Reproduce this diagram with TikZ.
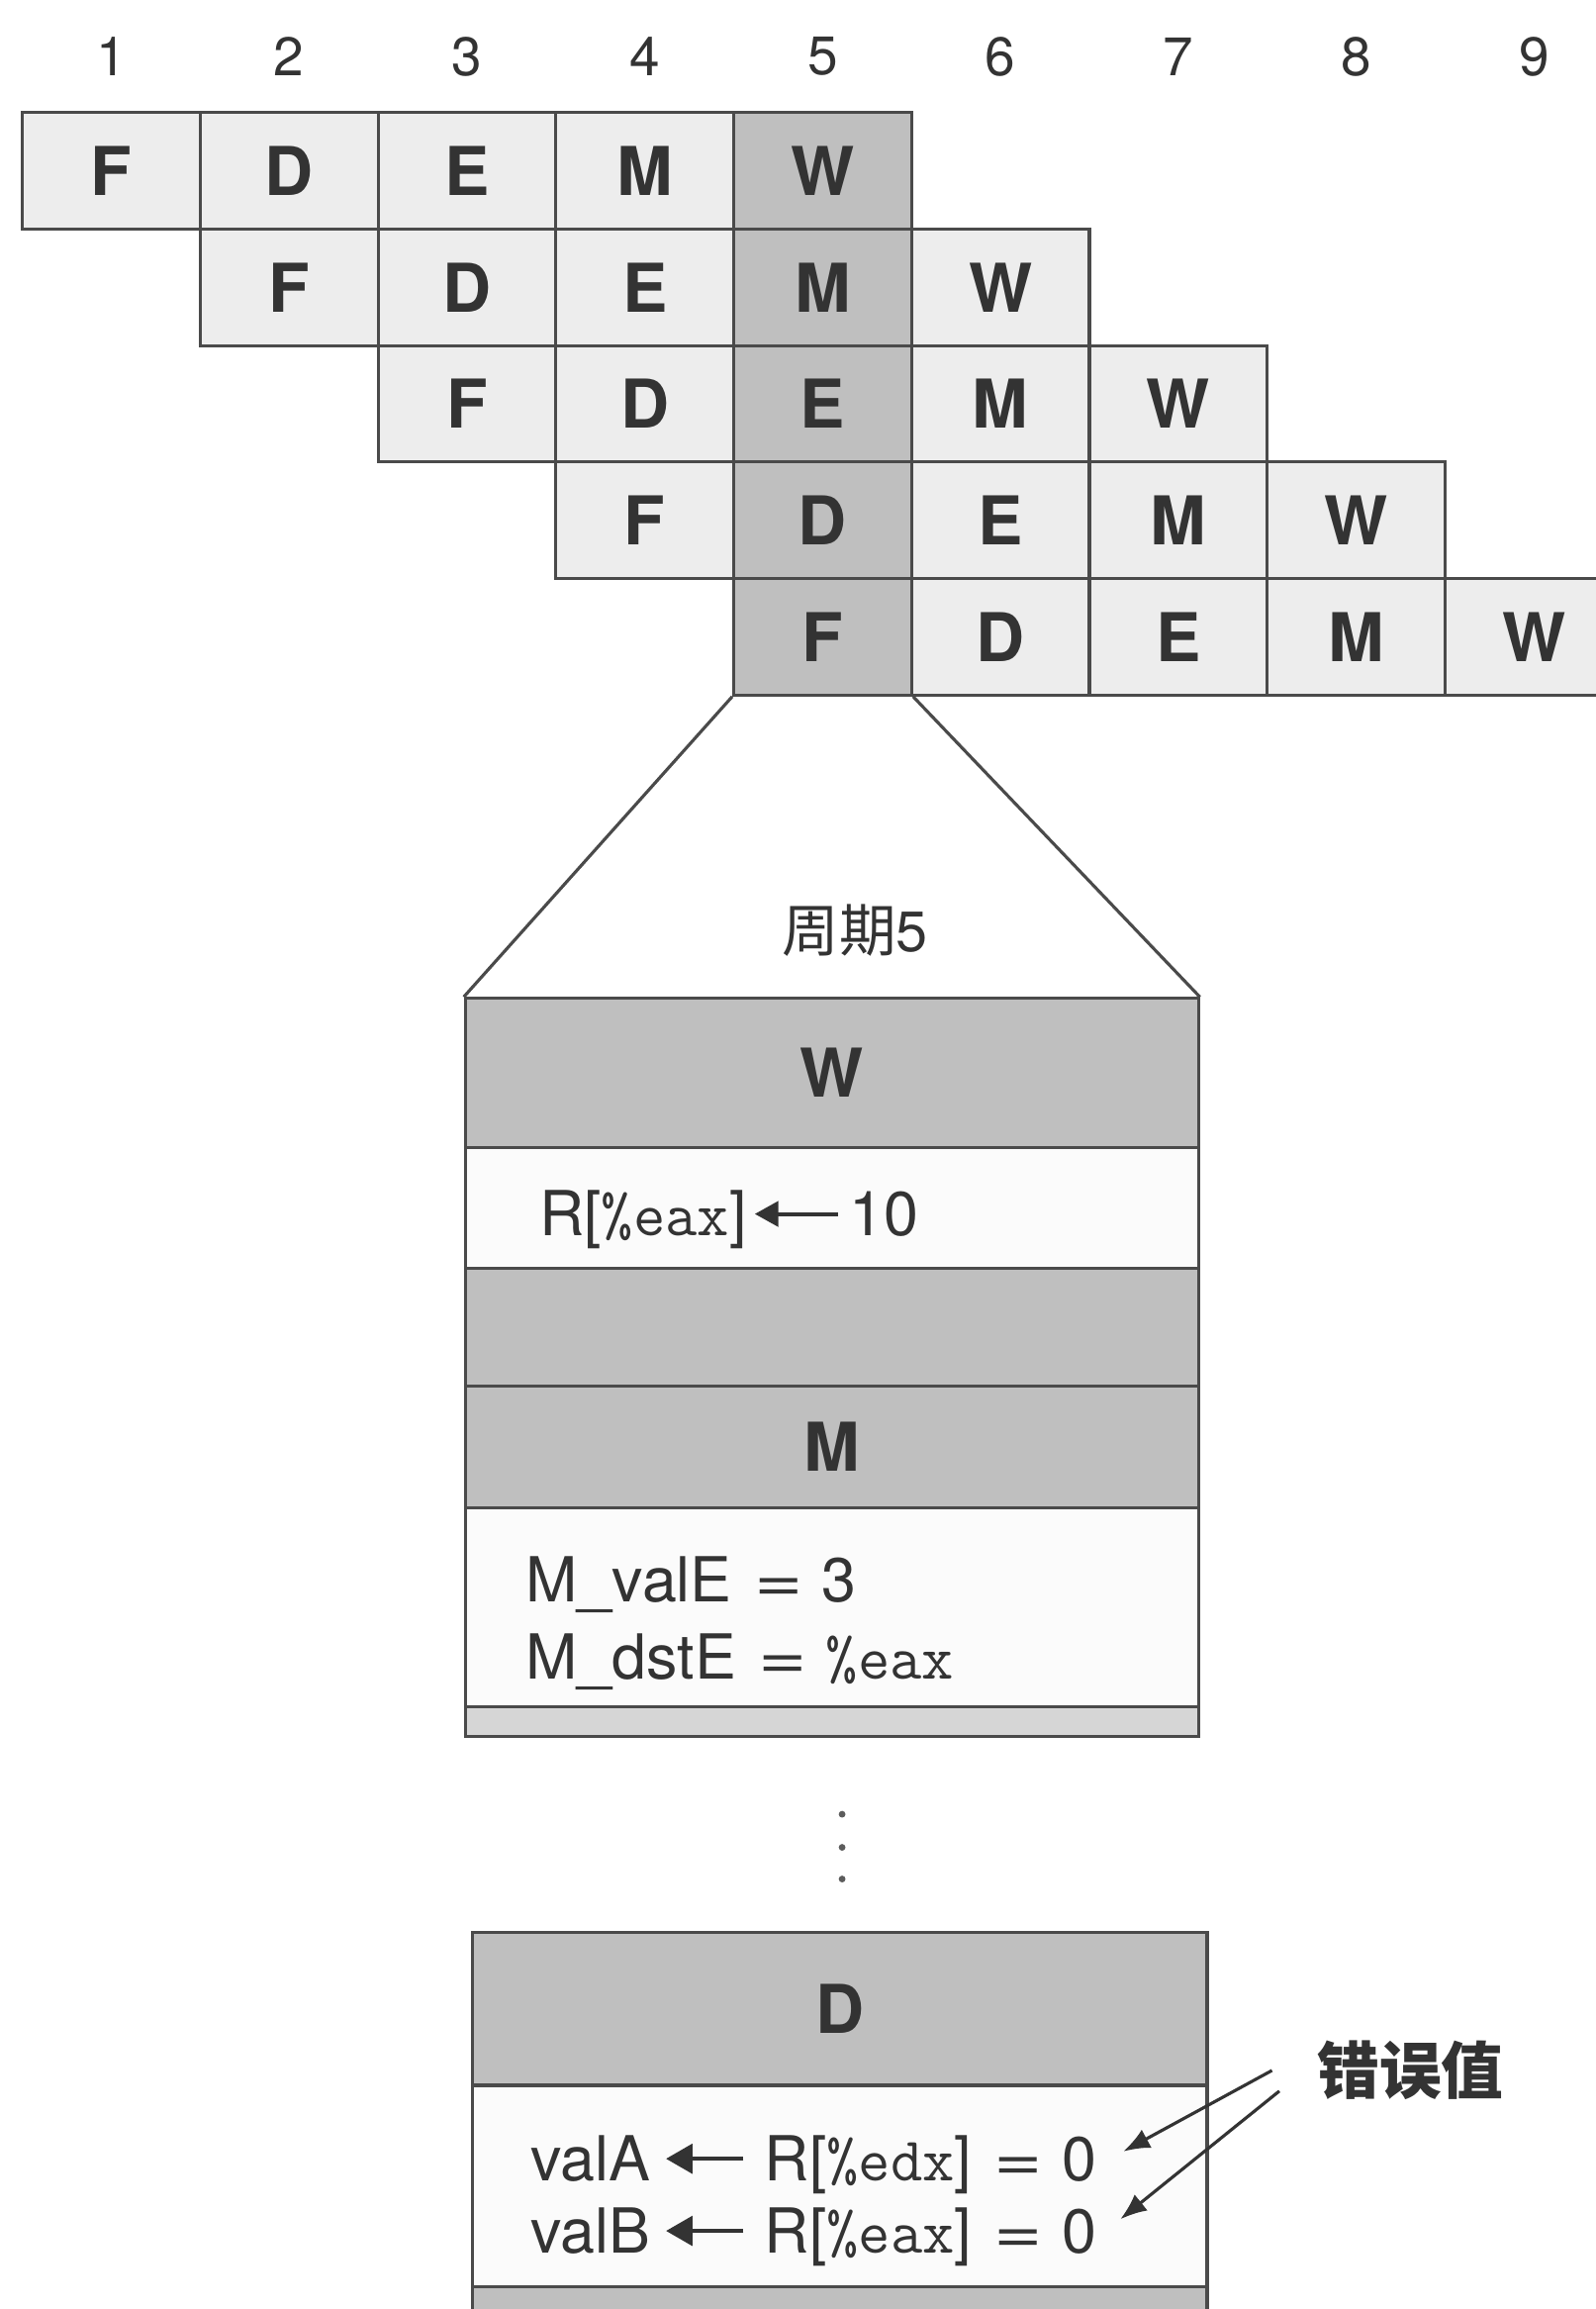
\documentclass[tikz,border=0pt]{standalone}
\usepackage{fontspec}
\usepackage{graphicx}
\setmainfont{TeX Gyre Heros}
\setsansfont{TeX Gyre Heros}
\newfontfamily\cjk{Noto Sans CJK SC}
\usetikzlibrary{arrows.meta,calc}
\definecolor{shadeg}{HTML}{BFBFBF}
\definecolor{lightg}{HTML}{EDEDED}
\definecolor{whiteg}{HTML}{FBFBFB}
\definecolor{stripg}{HTML}{D6D6D6}
\definecolor{lineg}{HTML}{4A4A4A}
\definecolor{textg}{HTML}{333333}
\newcommand{\eqsp}{\hspace{0.36em}\scalebox{1.35}[1]{=}\hspace{0.3em}}
\tikzset{
  cell/.style={draw=lineg, line width=1.2pt, minimum width=2.416cm, minimum height=1.582cm,
    inner sep=0pt, text=textg, font=\fontsize{26}{30}\selectfont\bfseries},
  shadecell/.style={cell, fill=shadeg},
  lightcell/.style={cell, fill=lightg},
  blk/.style={draw=lineg, line width=1.2pt, inner sep=0pt, anchor=north west,
    text=textg, font=\fontsize{26}{30}\selectfont\bfseries},
  txt/.style={inner sep=0pt, text=textg, font=\fontsize{24}{28}\selectfont},
  num/.style={inner sep=0pt, text=textg, font=\fontsize{21}{24}\selectfont},
  cjklabel/.style={inner sep=0pt, text=textg, font=\fontsize{22}{26}\selectfont},
  conn/.style={draw=lineg, line width=1.2pt},
  arr/.style={draw=textg, line width=1.5pt, -{Triangle[length=0.32cm,width=0.34cm]}},
  bigarr/.style={draw=textg, line width=1.5pt, -{Triangle[length=0.36cm,width=0.4cm]}},
  errarr/.style={draw=textg, line width=1.2pt, -{Latex[length=0.36cm,width=0.28cm]}}
}
\begin{document}
\begin{tikzpicture}[x=0.02cm,y=-0.02cm]
\useasboundingbox (0,0) rectangle (1084,1568);
\clip (0,0) rectangle (1084,1568);

% cycle numbers
\foreach \c in {1,...,9} {
  \node[num] (n\c) at ({15.2+(\c-0.5)*120.8},38.5) {\c};
}

% pipeline grid
\foreach \r in {1,...,5} {
  \foreach \s [count=\k from 0] in {F,D,E,M,W} {
    \pgfmathtruncatemacro\c{\r+\k}
    \ifnum\c=5 \def\cs{shadecell}\else\def\cs{lightcell}\fi
    \node[\cs] (c\r-\c) at ({15.2+(\c-0.5)*120.8},{76.5+(\r-0.5)*79.1}) {\s};
  }
}

% block 1 (cycle 5 detail)
\node[blk, fill=shadeg, minimum width=9.96cm, minimum height=2.02cm] (bw) at (315,677) {W};
\node[blk, fill=whiteg, minimum width=9.96cm, minimum height=1.64cm] (bwv) at (315,778) {};
\node[blk, fill=shadeg, minimum width=9.96cm, minimum height=1.6cm] (bx) at (315,860) {};
\node[blk, fill=shadeg, minimum width=9.96cm, minimum height=1.66cm] (bm) at (315,940) {M};
\node[blk, fill=whiteg, minimum width=9.96cm, minimum height=2.7cm] (bmv) at (315,1023) {};
\node[blk, fill=stripg, minimum width=9.96cm, minimum height=0.4cm] (bms) at (315,1158) {};

% zoom lines
\draw[conn] (c5-5.south west) -- (bw.north west);
\draw[conn] (c5-5.south east) -- (bw.north east);
\node[cjklabel] (cyc) at (581,632) {{\cjk 周期}5};

% W row content
\node[txt, anchor=base west] (wl) at (366,839) {R[{\ttfamily\%eax}]};
\node[txt, anchor=base east] (wn) at (624,839) {10};
\draw[arr, shorten <=4pt, shorten >=3pt] (wn.west) -- (wn.west -| wl.east);

% M row content
\node[txt, anchor=base west] (mv) at (357,1088) {M\_valE\eqsp 3};
\node[txt, anchor=base west] (md) at (357,1140) {M\_dstE\eqsp{\ttfamily\%eax}};

% dots
\foreach \i/\yy in {1/1232,2/1254.5,3/1276} {
  \fill[textg!80] (572,\yy) circle (2.3) coordinate (dot\i);
}

% block 2
\node[blk, fill=shadeg, minimum width=9.98cm, minimum height=2.08cm] (bd) at (320,1311) {D};
\node[blk, fill=whiteg, minimum width=9.98cm, minimum height=2.74cm] (bdv) at (320,1415) {};
\node[blk, fill=shadeg, minimum width=9.98cm, minimum height=1cm] (bds) at (320,1552) {};

\node[txt, anchor=base west] (va) at (360,1481) {valA};
\node[txt, anchor=base west] (ra) at (519,1481) {R[{\ttfamily\%edx}]\eqsp 0};
\draw[bigarr, shorten <=8pt, shorten >=6pt] (ra.west |- va.east) -- (va.east);
\node[txt, anchor=base west] (vb) at (360,1530) {valB};
\node[txt, anchor=base west] (rb) at (519,1530) {R[{\ttfamily\%eax}]\eqsp 0};
\draw[bigarr, shorten <=8pt, shorten >=6pt] (rb.west |- vb.east) -- (vb.east);

% error label
\node[cjklabel, font=\fontsize{24}{28}\selectfont\bfseries] (err) at (958,1406) {\cjk 错误值};
\coordinate (e1) at (864,1406);
\coordinate (e2) at (869,1420);
\coordinate (t1) at (763,1461);
\coordinate (t2) at (761,1507);
\draw[errarr] (e1) -- (t1);
\draw[errarr] (e2) -- (t2);
\end{tikzpicture}
\end{document}
